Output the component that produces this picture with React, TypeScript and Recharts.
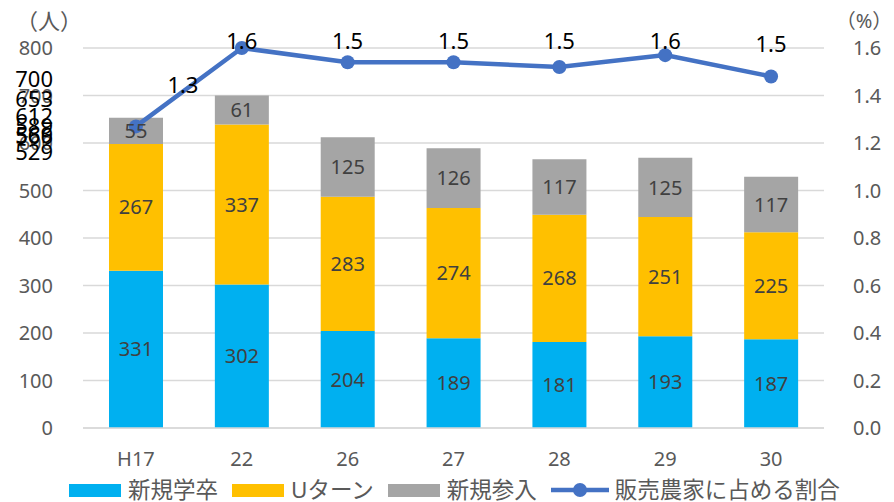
import {
  ComposedChart,
  Bar,
  Line,
  XAxis,
  YAxis,
  CartesianGrid,
  LabelList,
} from 'recharts';

const years = ['H17', '22', '26', '27', '28', '29', '30'];
const newGrads = [331, 302, 204, 189, 181, 193, 187];
const uTurn = [267, 337, 283, 274, 268, 251, 225];
const newEntry = [55, 61, 125, 126, 117, 125, 117];
const sharePct = [1.27, 1.6, 1.54, 1.54, 1.52, 1.57, 1.48];

const leftTicks = [0, 100, 200, 300, 400, 500, 600, 700, 800];
const rightTicks = [0, 0.2, 0.4, 0.6, 0.8, 1.0, 1.2, 1.4, 1.6];

const FONT = '"Noto Sans", "Noto Sans CJK JP", sans-serif';
const AXIS_GRAY = '#595959';

const data = years.map((year, i) => ({
  year,
  grads: newGrads[i],
  uturn: uTurn[i],
  entry: newEntry[i],
  share: sharePct[i],
  total: newGrads[i] + uTurn[i] + newEntry[i],
}));

// Excelの合計ラベルが縦軸の上に重なっているのを再現
const TotalLabel = (props: any) => {
  const { y, value } = props;
  return (
    <text x={53} y={y} textAnchor="end" dominantBaseline="central" fontSize={22} fill="#000" fontFamily={FONT}>
      {value}
    </text>
  );
};

const ShareLabel = (props: any) => {
  const { x, y, value, index } = props;
  const lx = index === 0 ? x + 47 : x;
  const ly = index === 0 ? y - 42 : Math.max(40, y - 34);
  return (
    <text x={lx} y={ly} textAnchor="middle" dominantBaseline="central" fontSize={22} fill="#000" fontFamily={FONT}>
      {Number(value).toFixed(1)}
    </text>
  );
};

const legendItems = [
  { label: '新規学卒', color: '#00B0F0', kind: 'rect' },
  { label: 'Uターン', color: '#FFC000', kind: 'rect' },
  { label: '新規参入', color: '#A5A5A5', kind: 'rect' },
  { label: '販売農家に占める割合', color: '#4472C4', kind: 'line' },
];

function ChartLegend() {
  return (
    <div
      style={{
        position: 'absolute',
        left: 69,
        top: 478,
        height: 24,
        display: 'flex',
        alignItems: 'center',
        fontFamily: FONT,
        fontSize: 22.5,
        color: AXIS_GRAY,
        lineHeight: '24px',
        whiteSpace: 'nowrap',
      }}
    >
      {legendItems.map((it) => (
        <div key={it.label} style={{ display: 'flex', alignItems: 'center', marginRight: 14 }}>
          {it.kind === 'rect' ? (
            <div style={{ width: 52, height: 13, background: it.color, marginRight: 7 }} />
          ) : (
            <svg width={58} height={16} style={{ marginRight: 6 }}>
              <line x1={0} y1={8} x2={58} y2={8} stroke={it.color} strokeWidth={4.5} />
              <circle cx={29} cy={8} r={7} fill={it.color} />
            </svg>
          )}
          <span>{it.label}</span>
        </div>
      ))}
    </div>
  );
}

export default function App() {
  return (
    <div style={{ position: 'absolute', left: 0, top: 0, width: 894, height: 502, background: '#fff' }}>
      <ComposedChart
        width={894}
        height={502}
        data={data}
        margin={{ top: 48, right: 10, bottom: 34, left: 23 }}
      >
        <CartesianGrid yAxisId="left" vertical={false} stroke="#D9D9D9" strokeWidth={1.5} />
        <XAxis
          dataKey="year"
          axisLine={{ stroke: '#D9D9D9', strokeWidth: 1.5 }}
          tickLine={false}
          tickSize={0}
          tickMargin={24}
          height={40}
          tick={{ fill: AXIS_GRAY, fontSize: 20, fontFamily: FONT }}
        />
        <YAxis
          yAxisId="left"
          domain={[0, 800]}
          ticks={leftTicks}
          width={60}
          axisLine={false}
          tickLine={false}
          tickSize={0}
          tickMargin={30}
          interval={0}
          tick={{ fill: AXIS_GRAY, fontSize: 20, fontFamily: FONT }}
        />
        <YAxis
          yAxisId="right"
          orientation="right"
          domain={[0, 1.6]}
          ticks={rightTicks}
          width={60}
          axisLine={false}
          tickLine={false}
          tickSize={0}
          tickMargin={29}
          interval={0}
          tickFormatter={(v: number) => v.toFixed(1)}
          tick={{ fill: AXIS_GRAY, fontSize: 20, fontFamily: FONT, textAnchor: 'start' }}
        />
        <YAxis yAxisId="total" hide domain={[-119, 769]} />
        <Bar yAxisId="left" dataKey="grads" stackId="a" fill="#00B0F0" barSize={54} isAnimationActive={false}>
          <LabelList dataKey="grads" position="center" fill="#404040" fontSize={20} fontFamily={FONT} />
        </Bar>
        <Bar yAxisId="left" dataKey="uturn" stackId="a" fill="#FFC000" barSize={54} isAnimationActive={false}>
          <LabelList dataKey="uturn" position="center" fill="#404040" fontSize={20} fontFamily={FONT} />
        </Bar>
        <Bar yAxisId="left" dataKey="entry" stackId="a" fill="#A5A5A5" barSize={54} isAnimationActive={false}>
          <LabelList dataKey="entry" position="center" fill="#404040" fontSize={20} fontFamily={FONT} />
        </Bar>
        <Line
          yAxisId="total"
          dataKey="total"
          stroke="none"
          dot={false}
          activeDot={false}
          isAnimationActive={false}
        >
          <LabelList dataKey="total" content={TotalLabel} />
        </Line>
        <Line
          yAxisId="right"
          dataKey="share"
          stroke="#4472C4"
          strokeWidth={4.5}
          dot={{ r: 7, fill: '#4472C4', stroke: 'none' }}
          activeDot={false}
          isAnimationActive={false}
        >
          <LabelList dataKey="share" content={ShareLabel} />
        </Line>
        <text x={49} y={20} textAnchor="middle" dominantBaseline="central" fontSize={22} fill={AXIS_GRAY} fontFamily={FONT}>
          （人）
        </text>
        <text x={864} y={20} textAnchor="middle" dominantBaseline="central" fontSize={20} fill={AXIS_GRAY} fontFamily={FONT}>
          （%）
        </text>
      </ComposedChart>
      <ChartLegend />
    </div>
  );
}
